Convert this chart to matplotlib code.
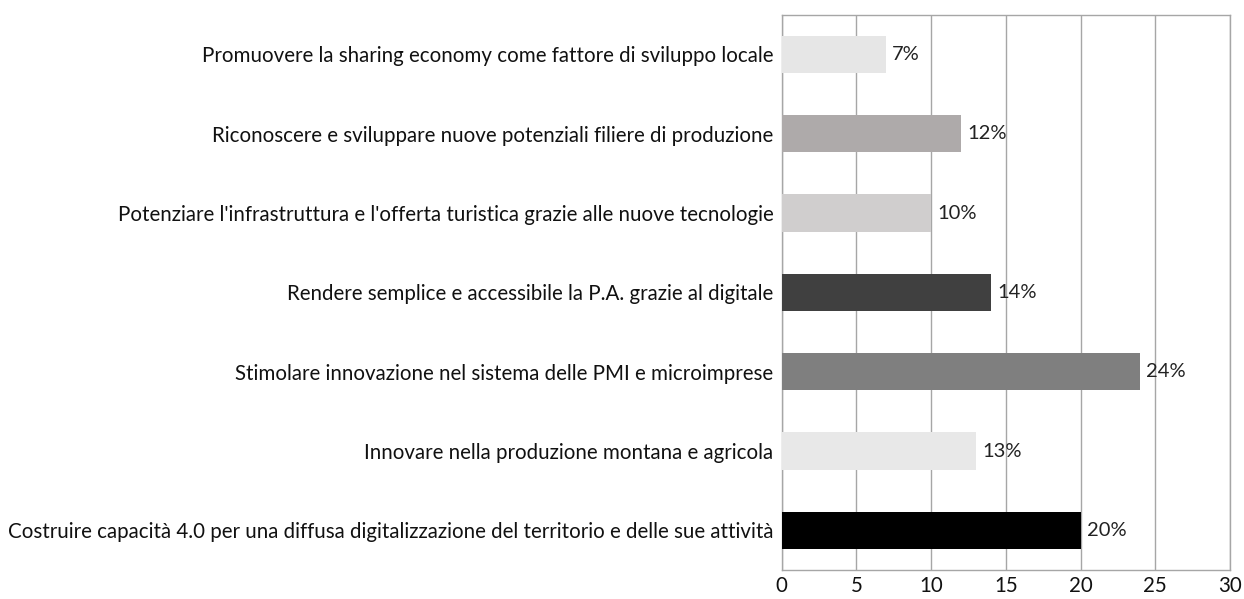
import matplotlib
matplotlib.use("Agg")
import matplotlib.pyplot as plt

# Data (bottom to top)
categories = [
    "Costruire capacità 4.0 per una diffusa digitalizzazione del territorio e delle sue attività",
    "Innovare nella produzione montana e agricola",
    "Stimolare innovazione nel sistema delle PMI e microimprese",
    "Rendere semplice e accessibile la P.A. grazie al digitale",
    "Potenziare l'infrastruttura e l'offerta turistica grazie alle nuove tecnologie",
    "Riconoscere e sviluppare nuove potenziali filiere di produzione",
    "Promuovere la sharing economy come fattore di sviluppo locale",
]
values = [20, 13, 24, 14, 10, 12, 7]
bar_colors = ["#000000", "#e8e8e8", "#7f7f7f", "#404040", "#d0cece", "#aeaaaa", "#e6e6e6"]
xticks = [0, 5, 10, 15, 20, 25, 30]

plt.rcParams["font.family"] = ["Lato", "DejaVu Sans"]

fig = plt.figure(figsize=(12.44, 5.99), dpi=100)
ax = fig.add_axes([0.6284, 0.0484, 0.3603, 0.9271])

ypos = range(len(categories))
ax.barh(ypos, values, height=0.47, color=bar_colors, zorder=3)
for y, v in zip(ypos, values):
    ax.text(v + 0.4, y, f"{v}%", va="center", ha="left", fontsize=14.5, color="#222222", zorder=4)

ax.set_xlim(0, 30)
ax.set_ylim(-0.5, len(categories) - 0.5)
ax.set_xticks(xticks)
ax.set_yticks(list(ypos))
ax.set_yticklabels(categories, fontsize=14.8)
ax.tick_params(axis="both", length=0, labelsize=14.8, colors="#111111")
ax.tick_params(axis="y", pad=6)
ax.tick_params(axis="x", pad=4)
ax.grid(axis="x", color="#a6a6a6", linewidth=1, zorder=0)
for s in ax.spines.values():
    s.set_color("#a6a6a6")
    s.set_linewidth(1)

fig.savefig("out.png", dpi=100)
